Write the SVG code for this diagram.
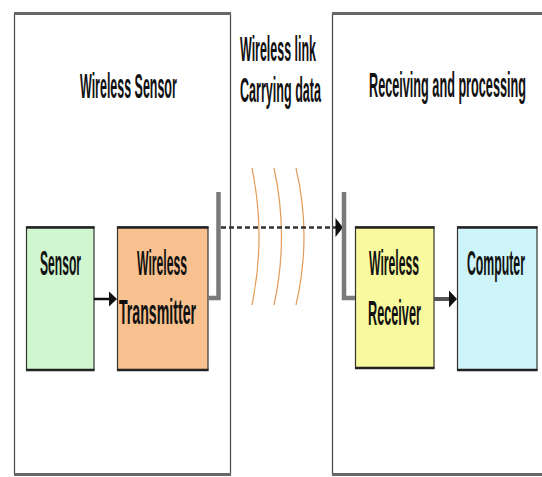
<svg xmlns="http://www.w3.org/2000/svg" width="542" height="477" viewBox="0 0 542 477">
  <defs>
    <style>
      .lbl { font-family: "Liberation Sans", Arial, sans-serif; font-size: 35px; font-weight: bold; fill: #111; }
      .panel-side { stroke: #444; stroke-width: 1.2; fill: none; }
      .panel-edge { stroke: #666; stroke-width: 3; fill: none; }
      .box { stroke: #333; stroke-width: 1.2; }
      .box-edge { stroke: #222; stroke-width: 2.5; fill: none; }
      .antenna { stroke: #7a7a7a; stroke-width: 4.5; fill: none; stroke-linejoin: miter; }
      .wave { stroke: #e39a58; stroke-width: 1.2; fill: none; }
    </style>
  </defs>

  <rect width="542" height="477" fill="#ffffff"/>

  <!-- panels -->
  <g id="panel-sensor">
    <path class="panel-side" d="M14.5 13 V475 M230.5 13 V475"/>
    <path class="panel-edge" d="M14 13.5 H231 M14 474.5 H231"/>
    <text class="lbl" transform="translate(80 98) scale(0.36 1)" textLength="269" lengthAdjust="spacingAndGlyphs">Wireless Sensor</text>
  </g>
  <g id="panel-receiving">
    <path class="panel-side" d="M332.5 13 V475"/>
    <path class="panel-edge" d="M332 13.5 H542 M332 474.5 H542"/>
    <text class="lbl" transform="translate(369 97) scale(0.36 1)" textLength="436" lengthAdjust="spacingAndGlyphs">Receiving and processing</text>
  </g>

  <g id="link-label">
    <text class="lbl" transform="translate(240 61) scale(0.36 1)" textLength="211" lengthAdjust="spacingAndGlyphs">Wireless link</text>
    <text class="lbl" transform="translate(240 102) scale(0.36 1)" textLength="225" lengthAdjust="spacingAndGlyphs">Carrying data</text>
  </g>

  <!-- radio waves -->
  <g id="waves">
    <path class="wave" d="M252 168 Q266 236 252 305"/>
    <path class="wave" d="M274 168 Q289 236 274 305"/>
    <path class="wave" d="M296 168 Q312 236 296 305"/>
  </g>

  <!-- nodes -->
  <g id="sensor">
    <rect class="box" x="26.5" y="227" width="67.5" height="143" fill="#d0f6d0"/>
    <path class="box-edge" d="M26 227.5 H94.5 M26 370 H94.5"/>
    <text class="lbl" transform="translate(40 275) scale(0.36 1)" textLength="114" lengthAdjust="spacingAndGlyphs">Sensor</text>
  </g>
  <g id="transmitter">
    <rect class="box" x="117.5" y="227" width="90.5" height="143" fill="#f8c18f"/>
    <path class="box-edge" d="M117 227.5 H208.5 M117 370 H208.5"/>
    <text class="lbl" transform="translate(137 275) scale(0.36 1)" textLength="139" lengthAdjust="spacingAndGlyphs">Wireless</text>
    <text class="lbl" transform="translate(119 324) scale(0.36 1)" textLength="214" lengthAdjust="spacingAndGlyphs">Transmitter</text>
  </g>
  <g id="receiver">
    <rect class="box" x="355.5" y="227" width="78.5" height="141" fill="#f9f99d"/>
    <path class="box-edge" d="M355 227.5 H434.5 M355 368 H434.5"/>
    <text class="lbl" transform="translate(369 275) scale(0.36 1)" textLength="139" lengthAdjust="spacingAndGlyphs">Wireless</text>
    <text class="lbl" transform="translate(368 325) scale(0.36 1)" textLength="147" lengthAdjust="spacingAndGlyphs">Receiver</text>
  </g>
  <g id="computer">
    <rect class="box" x="457.5" y="227" width="79.5" height="143" fill="#cdf4f8"/>
    <path class="box-edge" d="M457 227.5 H537.5 M457 370 H537.5"/>
    <text class="lbl" transform="translate(467 275) scale(0.36 1)" textLength="161" lengthAdjust="spacingAndGlyphs">Computer</text>
  </g>

  <!-- connectors -->
  <g id="connectors">
    <!-- sensor to transmitter -->
    <line x1="94" y1="299" x2="110" y2="299" stroke="#111" stroke-width="2.5"/>
    <polygon points="109,291.5 117,299 109,306.5" fill="#111"/>
    <!-- transmitter antenna -->
    <path class="antenna" d="M208 298 H218.5 V192"/>
    <!-- wireless link -->
    <line x1="221" y1="227.5" x2="336" y2="227.5" stroke="#333" stroke-width="2.5" stroke-dasharray="5 3"/>
    <polygon points="335.5,218 343,227.5 335.5,237" fill="#111"/>
    <!-- receiver antenna -->
    <path class="antenna" d="M344 192 V298 H355"/>
    <!-- receiver to computer -->
    <line x1="434" y1="299" x2="450" y2="299" stroke="#555" stroke-width="4"/>
    <polygon points="449,290.5 457,299 449,307.5" fill="#111"/>
  </g>
</svg>
